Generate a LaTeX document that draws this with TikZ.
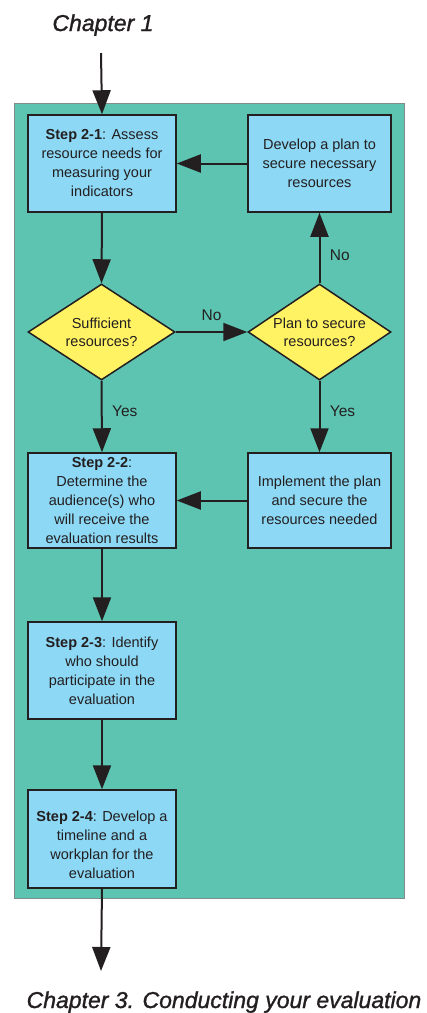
\documentclass[tikz,border=0pt]{standalone}
\usepackage{fontspec}
\setmainfont{Liberation Sans}
\newfontfamily\chapfont[ItalicFeatures={FakeBold=1.2}]{Liberation Sans}
\usetikzlibrary{shapes.geometric,arrows.meta}
\definecolor{teal}{RGB}{94,196,178}
\definecolor{boxblue}{RGB}{140,216,245}
\definecolor{dyellow}{RGB}{255,242,99}
\definecolor{ink}{RGB}{35,31,32}
\definecolor{frame}{RGB}{128,140,140}
\tikzset{
  stepbox/.style={draw=ink, line width=1.5pt, fill=boxblue, minimum width=148pt, minimum height=97pt,
    inner sep=0pt, align=center, text=ink, font=\fontsize{14.5}{19}\selectfont},
  decision/.style={diamond, draw=ink, line width=1.5pt, fill=dyellow, minimum width=147pt, minimum height=96pt,
    inner sep=0pt, aspect=1.53, align=center, text=ink, font=\fontsize{14.5}{18}\selectfont},
  flow/.style={draw=ink, line width=2pt, -{Triangle[length=24pt,width=18pt]}},
  lbl/.style={text=ink, font=\fontsize{15.5}{18}\selectfont},
  chap/.style={text=ink, font=\fontsize{23}{26}\selectfont\chapfont\itshape}
}
\begin{document}
\begin{tikzpicture}[x=1pt,y=-1pt]
\useasboundingbox (0,0) rectangle (427,1013);
\node[draw=frame, line width=1pt, fill=teal, minimum width=390pt, minimum height=795pt, inner sep=0pt] (bg) at (209,500.5) {};

\node[chap, anchor=base] (ch1) at (103,31) {Chapter 1};
\node[chap, anchor=base] (ch3) at (224,1008) {Chapter 3. Conducting your evaluation};
\coordinate (top) at (101,53);
\coordinate (bot) at (101,971);

\node[stepbox] (s1) at (102,163.5) {\textbf{Step 2-1}: Assess\\resource needs for\\measuring your\\indicators};
\node[stepbox, minimum width=143pt] (dev) at (319.5,163.5) {Develop a plan to\\secure necessary\\resources};
\node[decision] (d1) at (101.5,332) {Sufficient\\resources?};
\node[decision, minimum width=143pt] (d2) at (319.5,332) {Plan to secure\\resources?};
\node[stepbox, minimum height=95pt] (s2) at (102,500.5) {\textbf{Step 2-2}:\\Determine the\\audience(s) who\\will receive the\\evaluation results};
\node[stepbox, minimum width=143pt, minimum height=95pt] (imp) at (319.5,500.5) {Implement the plan\\and secure the\\resources needed};
\node[stepbox] (s3) at (102,670.5) {\textbf{Step 2-3}: Identify\\who should\\participate in the\\evaluation};
\node[stepbox, minimum height=98pt] (s4) at (102,839) {\raisebox{-6pt}[\height][\depth]{\parbox{140pt}{\centering\textbf{Step 2-4}: Develop a\\timeline and a\\workplan for the\\evaluation}}};

\draw[flow] (top) -- (s1.north);
\draw[flow] (dev.west) -- (s1.east);
\draw[flow] (s1.south) -- (d1.north);
\draw[flow] (d1.east) -- node[lbl, above, yshift=7pt] {No} (d2.west);
\draw[flow] (d2.north) -- node[lbl, right, xshift=6pt, yshift=-7pt] {No} (dev.south);
\draw[flow] (d1.south) -- node[lbl, right, xshift=6pt, yshift=5pt] {Yes} (s2.north);
\draw[flow] (d2.south) -- node[lbl, right, xshift=6pt, yshift=5pt] {Yes} (imp.north);
\draw[flow] (imp.west) -- (s2.east);
\draw[flow] (s2.south) -- (s3.north);
\draw[flow] (s3.south) -- (s4.north);
\draw[flow] (s4.south) -- (bot);
\end{tikzpicture}
\end{document}
